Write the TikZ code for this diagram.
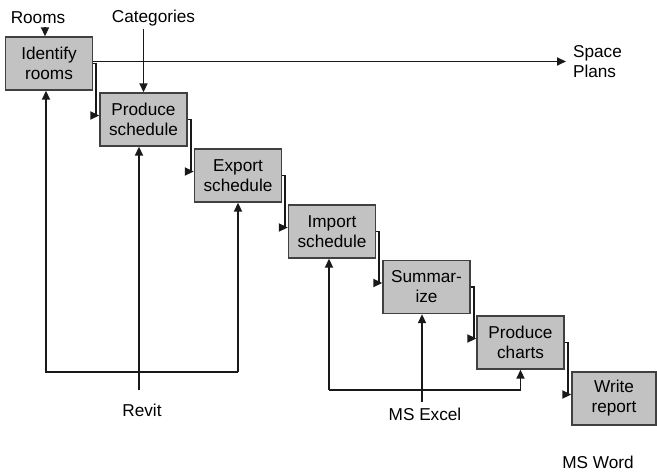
\documentclass[tikz,border=0pt]{standalone}
\usepackage{fontspec}
\setmainfont{Liberation Sans}
\usetikzlibrary{arrows.meta}
\tikzset{task/.style={rectangle,draw=black!75,fill=black!24,line width=0.7pt,minimum width=43.5pt,minimum height=26.5pt,align=center,inner sep=1pt},
arr/.style={-{Triangle[length=4.5pt,width=4pt]},line width=0.95pt,draw=black!90}}

\begin{document}
\begin{tikzpicture}[x=0.5pt,y=-0.5pt,font=\fontsize{8.6}{10}\selectfont]
\useasboundingbox (0,0) rectangle (657,475);
\node (ident) at (49,63.5) [task] {Identify\\rooms};
\node (prod) at (143.5,119.5) [task] {Produce\\schedule};
\node (exp) at (238,175.5) [task] {Export\\schedule};
\node (imp) at (332,231.5) [task] {Import\\schedule};
\node (summ) at (426.5,287) [task] {Summar-\\ize};
\node (charts) at (520.5,342.5) [task] {Produce\\charts};
\node (report) at (614,398.5) [task,minimum width=42pt] {Write\\report};
\node (rooms) at (38,18) [inner sep=1.5pt] {Rooms};
\node (cat) at (153.5,18) [inner sep=1.5pt] {Categories};
\node (plans) at (566,62) [anchor=west,align=left] {Space\\Plans};
\node (revit) at (142,410) {Revit};
\node (excel) at (425,414) {MS Excel};
\node (word) at (598,462) {MS Word};
\coordinate (rv) at (139,390);
\coordinate (ex) at (422,402);
\coordinate (rvbus) at (0,372);
\coordinate (exbus) at (0,390);
\coordinate (ib) at ([xshift=-1.5pt]ident.south);
\coordinate (mb) at ([xshift=-1.5pt]imp.south);
\coordinate (rs) at ([xshift=3.5pt]rooms.south);
% steps down the staircase
\foreach \a/\b in {ident/prod,prod/exp,exp/imp,imp/summ,summ/charts,charts/report}
  \draw[arr] (\a.east) -- ++(1.6pt,0) |- ([yshift=2pt]\b.west);
% inputs at the top
\draw[arr] (rs) -- (rs |- ident.north);
\draw[arr] (cat.south -| prod) -- (prod.north);
\draw[arr] ([yshift=1pt]ident.east) -- ([yshift=1pt]ident.east -| plans.west);
% Revit
\draw[arr] (rv) -- (rv |- prod.south);
\draw[arr] (exp.south |- rvbus) -| (ib);
\draw[arr] (exp.south |- rvbus) -- (exp.south);
% MS Excel
\draw[arr] (ex) -- (ex |- summ.south);
\draw[arr] (mb |- exbus) -| (charts.south);
\draw[arr] (mb |- exbus) -- (mb);
\end{tikzpicture}
\end{document}
